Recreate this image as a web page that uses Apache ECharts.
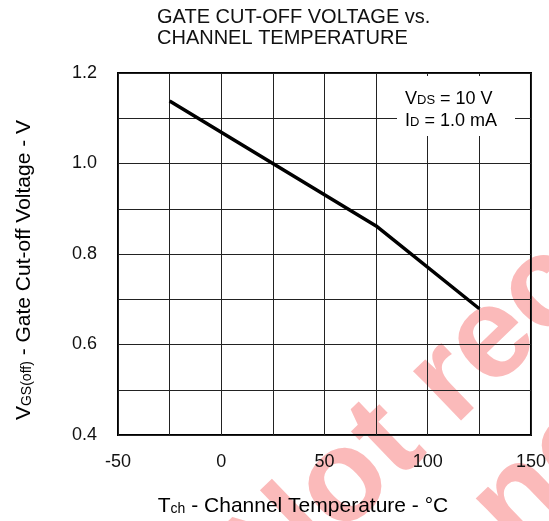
<!DOCTYPE html>
<html>
<head>
<meta charset="utf-8">
<script src="https://cdn.jsdelivr.net/npm/echarts@6/dist/echarts.min.js"></script>
<style>
  html, body { margin: 0; padding: 0; background: #fff; }
  #chart { width: 549px; height: 521px; }
</style>
</head>
<body>
<div id="chart"></div>
<script>
// channel temperature (°C) and gate cut-off voltage (V)
const temps = [-25, 25, 75, 125];
const vgsOff = [1.138, 1.0, 0.862, 0.679];

const xTicks = [-50, 0, 50, 100, 150];
const yTicks = [0.4, 0.6, 0.8, 1.0, 1.2];

const FONT = '"Liberation Sans", Arial, sans-serif';
const gridColor = '#222';

const chart = echarts.init(document.getElementById('chart'));

// main text + subscript styles for rich labels
const richText = (size, subSize) => ({
  a: { fontFamily: FONT, fontSize: size, color: '#111', lineHeight: 24, verticalAlign: 'bottom' },
  s: { fontFamily: FONT, fontSize: subSize, color: '#111', lineHeight: 24, verticalAlign: 'bottom', padding: [0, 0, 1, 0] }
});

chart.setOption({
  animation: false,
  title: {
    text: 'GATE CUT-OFF VOLTAGE vs.\nCHANNEL TEMPERATURE',
    left: 157,
    top: 7,
    padding: 0,
    textStyle: { fontFamily: FONT, fontSize: 20, fontWeight: 'normal', color: '#111', lineHeight: 21 }
  },
  grid: {
    left: 118, right: 17, top: 73, bottom: 86,
    show: true, borderColor: '#000', borderWidth: 2
  },
  xAxis: {
    type: 'value',
    min: xTicks[0],
    max: xTicks[xTicks.length - 1],
    interval: 50,
    axisLine: { show: false },
    axisTick: { show: false },
    minorTick: { show: false, splitNumber: 2 },
    splitLine: { show: true, lineStyle: { color: gridColor, width: 1 } },
    minorSplitLine: { show: true, lineStyle: { color: gridColor, width: 1 } },
    axisLabel: { fontFamily: FONT, fontSize: 18, color: '#111', margin: 18 }
  },
  yAxis: {
    type: 'value',
    min: yTicks[0],
    max: yTicks[yTicks.length - 1],
    interval: 0.2,
    axisLine: { show: false },
    axisTick: { show: false },
    minorTick: { show: false, splitNumber: 2 },
    splitLine: { show: true, lineStyle: { color: gridColor, width: 1 } },
    minorSplitLine: { show: true, lineStyle: { color: gridColor, width: 1 } },
    axisLabel: {
      fontFamily: FONT, fontSize: 18, color: '#111', margin: 21,
      formatter: v => v.toFixed(1)
    }
  },
  series: [{
    type: 'line',
    data: temps.map((t, i) => [t, vgsOff[i]]),
    showSymbol: false,
    lineStyle: { color: '#000', width: 3.5 },
    z: 3
  }],
  graphic: [
    // watermark, behind everything
    {
      type: 'text',
      x: 201, y: 528,
      rotation: 0.768,
      z: -10,
      silent: true,
      style: {
        text: 'Not recommended\nfor new design',
        font: 'bold 130px ' + FONT,
        fill: '#fbbaba',
        textAlign: 'left',
        textVerticalAlign: 'top',
        lineHeight: 135
      }
    },
    // conditions box
    {
      type: 'rect',
      shape: { x: 397, y: 76, width: 118, height: 60 },
      style: { fill: '#fff' },
      z: 10
    },
    {
      type: 'text',
      x: 405, y: 86,
      z: 11,
      style: {
        text: '{a|V}{s|DS}{a| = 10 V}\n{a|I}{s|D}{a| = 1.0 mA}',
        textAlign: 'left',
        textVerticalAlign: 'top',
        rich: {
          a: { fontFamily: FONT, fontSize: 18, color: '#111', lineHeight: 22, verticalAlign: 'bottom' },
          s: { fontFamily: FONT, fontSize: 13, color: '#111', lineHeight: 22, verticalAlign: 'bottom', padding: [0, 0, 1, 0] }
        }
      }
    },
    // x axis name
    {
      type: 'text',
      x: 303, y: 505,
      z: 11,
      style: {
        text: '{a|T}{s|ch}{a| - Channel Temperature - °C}',
        textAlign: 'center',
        textVerticalAlign: 'middle',
        rich: richText(21, 14)
      }
    },
    // y axis name
    {
      type: 'text',
      x: 23, y: 270,
      rotation: Math.PI / 2,
      z: 11,
      style: {
        text: '{a|V}{s|GS(off)}{a| - Gate Cut-off Voltage - V}',
        textAlign: 'center',
        textVerticalAlign: 'middle',
        rich: richText(21, 14)
      }
    }
  ]
});
</script>
</body>
</html>
